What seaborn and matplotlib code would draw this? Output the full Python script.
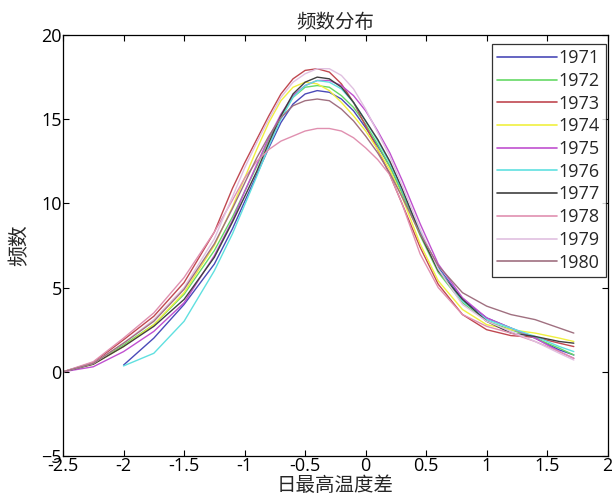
import numpy as np
import pandas as pd
import seaborn as sns
import matplotlib
matplotlib.use("Agg")
import matplotlib.pyplot as plt
from matplotlib.lines import Line2D

# ---- data ----
x_grid = [-2.5, -2.25, -2.0, -1.75, -1.5, -1.25, -1.1, -1.0, -0.9, -0.8, -0.7, -0.6,
          -0.5, -0.4, -0.3, -0.2, -0.1, 0.0, 0.1, 0.2, 0.3, 0.45, 0.6, 0.8, 1.0,
          1.2, 1.4, 1.6, 1.72]
years = ["1971", "1972", "1973", "1974", "1975", "1976", "1977", "1978", "1979", "1980"]

y1971 = [None, None, 0.4, 2.0, 4.0, 6.4, 8.5, 10.1, 11.7, 13.3, 14.8, 15.9, 16.5, 16.7, 16.6, 16.2, 15.5, 14.5, 13.4, 12.2, 10.7, 8.3, 6.2, 4.3, 3.2, 2.6, 2.0, 1.3, 1.0]
y1972 = [0.0, 0.5, 1.6, 2.8, 4.6, 7.2, 9.2, 10.7, 12.2, 13.8, 15.2, 16.3, 16.9, 17.0, 16.9, 16.4, 15.7, 14.7, 13.5, 12.2, 10.6, 8.1, 5.9, 4.1, 3.0, 2.5, 2.0, 1.4, 1.0]
y1973 = [0.0, 0.55, 1.9, 3.3, 5.3, 8.3, 10.9, 12.4, 13.8, 15.2, 16.5, 17.4, 17.9, 18.0, 17.8, 17.1, 16.0, 14.6, 13.2, 11.7, 10.0, 7.4, 5.2, 3.4, 2.5, 2.15, 2.05, 1.7, 1.5]
y1974 = [0.0, 0.45, 1.5, 2.8, 4.7, 7.5, 9.8, 11.5, 13.2, 14.8, 16.1, 16.9, 17.2, 17.1, 16.7, 16.0, 15.2, 14.3, 13.2, 12.0, 10.4, 7.6, 5.4, 3.7, 2.8, 2.5, 2.3, 2.0, 1.8]
y1975 = [0.0, 0.3, 1.2, 2.4, 4.1, 6.9, 9.0, 10.7, 12.3, 13.9, 15.3, 16.4, 17.0, 17.3, 17.3, 17.0, 16.4, 15.5, 14.3, 13.0, 11.4, 8.8, 6.4, 4.4, 3.2, 2.6, 2.0, 1.2, 0.8]
y1976 = [None, None, 0.35, 1.1, 3.0, 6.0, 8.2, 9.9, 11.6, 13.4, 15.0, 16.3, 17.0, 17.3, 17.2, 16.8, 16.0, 14.9, 13.7, 12.4, 10.8, 8.3, 6.1, 4.2, 3.1, 2.6, 2.1, 1.5, 1.2]
y1977 = [0.0, 0.45, 1.5, 2.7, 4.3, 6.8, 8.9, 10.4, 11.9, 13.6, 15.2, 16.5, 17.2, 17.5, 17.4, 16.9, 16.0, 14.9, 13.8, 12.5, 10.9, 8.2, 6.0, 4.3, 3.0, 2.3, 2.1, 1.8, 1.7]
y1978 = [0.0, 0.6, 2.0, 3.5, 5.6, 8.3, 10.2, 11.5, 12.5, 13.2, 13.7, 14.0, 14.3, 14.45, 14.45, 14.3, 13.9, 13.3, 12.6, 11.7, 10.0, 7.0, 5.0, 3.4, 2.7, 2.3, 1.8, 1.2, 0.8]
y1979 = [0.0, 0.5, 1.7, 3.1, 5.0, 7.9, 10.4, 12.1, 13.6, 15.0, 16.3, 17.2, 17.7, 18.0, 18.0, 17.6, 16.8, 15.6, 14.2, 12.8, 11.1, 8.5, 6.1, 4.0, 3.0, 2.4, 1.8, 1.1, 0.7]
y1980 = [0.0, 0.5, 1.7, 3.0, 4.9, 7.6, 9.7, 11.2, 12.7, 14.0, 15.1, 15.8, 16.1, 16.2, 16.1, 15.6, 14.9, 14.0, 13.0, 11.8, 10.4, 8.2, 6.3, 4.7, 3.9, 3.4, 3.1, 2.6, 2.3]

series = [y1971, y1972, y1973, y1974, y1975, y1976, y1977, y1978, y1979, y1980]
colors = ["#4a4ab8", "#66d966", "#c04850", "#f0f040", "#c050d0",
          "#60e0e0", "#404040", "#e090b0", "#e0c0e0", "#a07080"]

title = "频数分布"
xlabel = "日最高温度差"
ylabel = "频数"
xticks = [-2.5, -2, -1.5, -1, -0.5, 0, 0.5, 1, 1.5, 2]
xticklabels = ["-2.5", "-2", "-1.5", "-1", "-0.5", "0", "0.5", "1", "1.5", "2"]
yticks = [-5, 0, 5, 10, 15, 20]

# ---- build long table ----
rows = []
for yr, vals in zip(years, series):
    for xv, yv in zip(x_grid, vals):
        if yv is not None:
            rows.append({"x": xv, "y": yv, "year": yr})
df = pd.DataFrame(rows)

sns.set_theme(style="ticks")
plt.rcParams["font.family"] = ["Open Sans", "Noto Sans CJK SC", "DejaVu Sans"]
cjk = ["Noto Sans CJK SC", "DejaVu Sans"]

fig = plt.figure(figsize=(6.12, 4.97), dpi=100)
ax = fig.add_axes([0.103, 0.0825, 0.890, 0.847])

palette = dict(zip(years, colors))
sns.lineplot(data=df, x="x", y="y", hue="year", palette=palette,
             hue_order=years, linewidth=1.0, ax=ax, legend=False, sort=True,
             estimator=None)

ax.set_xlim(-2.5, 2)
ax.set_ylim(-5, 20)
ax.set_xticks(xticks)
ax.set_xticklabels(xticklabels)
ax.set_yticks(yticks)
ax.tick_params(direction="in", top=True, right=True, length=4, width=0.8,
               labelsize=13, colors="black", pad=1)
for s in ax.spines.values():
    s.set_visible(True)
    s.set_color("black")
    s.set_linewidth(0.9)

ax.set_title(title, fontsize=14, family=cjk, pad=5)
ax.set_xlabel(xlabel, fontsize=14, family=cjk, labelpad=-0.5)
ax.set_ylabel(ylabel, fontsize=15, family=cjk, labelpad=8)

handles = [Line2D([0], [0], color=c, lw=1.2) for c in colors]
leg = ax.legend(handles, years, loc="upper right", bbox_to_anchor=(0.996, 0.979),
                borderaxespad=0, fontsize=13, frameon=True, fancybox=False,
                edgecolor="black", handlelength=3.3, handletextpad=0.1,
                labelspacing=0.26, borderpad=0.3)
leg.get_frame().set_linewidth(0.9)

fig.savefig("out.png", dpi=100)
